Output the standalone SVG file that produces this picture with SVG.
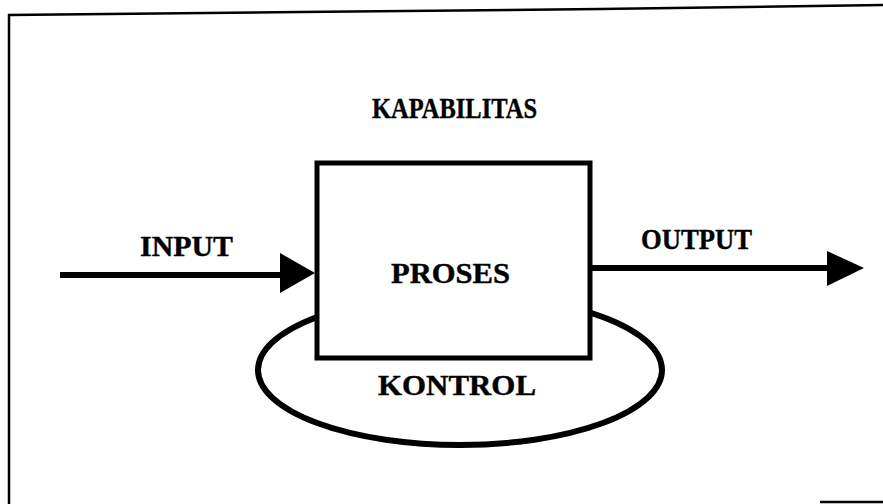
<svg xmlns="http://www.w3.org/2000/svg" width="883" height="504" viewBox="0 0 883 504">
  <style>
    .lbl { font-family: "Liberation Serif", "Times New Roman", serif; font-weight: bold; font-size: 29px; fill: #000; stroke: #000; stroke-width: 0.4; }
    .frame { fill: none; stroke: #000; stroke-width: 2.5; }
    .shape { fill: #fff; stroke: #000; stroke-width: 5; }
    .wire { stroke: #000; stroke-width: 6; fill: none; }
    .head { fill: #000; }
  </style>
  <rect width="883" height="504" fill="#fff"/>

  <!-- page frame -->
  <g id="frame">
    <path class="frame" d="M9,504 L9,15 L300,12 L600,9 L883,5"/>
    <line class="frame" x1="820" y1="502" x2="883" y2="502"/>
  </g>

  <!-- heading -->
  <g id="kapabilitas">
    <text class="lbl" x="372" y="118" textLength="165" lengthAdjust="spacingAndGlyphs">KAPABILITAS</text>
  </g>

  <!-- control loop behind the process box -->
  <g id="kontrol">
    <ellipse class="shape" cx="460" cy="370" rx="202" ry="75" style="stroke-width:6"/>
    <text class="lbl" x="378" y="395" textLength="158" lengthAdjust="spacingAndGlyphs">KONTROL</text>
  </g>

  <!-- process box -->
  <g id="proses">
    <rect class="shape" x="317" y="163" width="273" height="195"/>
    <text class="lbl" x="391" y="283" textLength="119" lengthAdjust="spacingAndGlyphs">PROSES</text>
  </g>

  <!-- flow arrows -->
  <g id="connectors">
    <line class="wire" x1="60" y1="275" x2="285" y2="275"/>
    <polygon class="head" points="280,253 315,273 280,293"/>
    <line class="wire" x1="590" y1="268" x2="832" y2="268"/>
    <polygon class="head" points="827,251 864,268 827,286"/>
  </g>

  <g id="input">
    <text class="lbl" x="140" y="256" textLength="93" lengthAdjust="spacingAndGlyphs">INPUT</text>
  </g>
  <g id="output">
    <text class="lbl" x="641" y="249" textLength="111" lengthAdjust="spacingAndGlyphs">OUTPUT</text>
  </g>
</svg>
